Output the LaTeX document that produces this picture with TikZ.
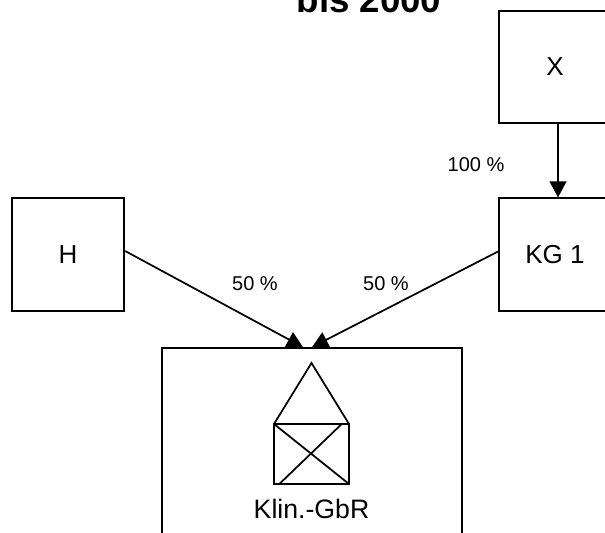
\documentclass[tikz,border=0pt]{standalone}
\usepackage{fontspec}
\setmainfont{Liberation Sans}
\usetikzlibrary{arrows.meta, positioning, calc}

\begin{document}
\begin{tikzpicture}[
    x=0.75pt, y=-0.75pt,
    box/.style={rectangle, draw, line width=1.3pt, minimum width=84.4pt, minimum height=84.4pt, inner sep=0pt, align=center, font=\fontsize{19.5}{22}\selectfont},
    arrow/.style={-{Triangle[length=12pt, width=12.5pt]}, line width=1.3pt},
    share/.style={inner sep=0pt, font=\fontsize{15}{18}\selectfont},
    thinline/.style={line width=1.3pt}
]
\clip (0,0) rectangle (605,532);
\useasboundingbox (0,0) rectangle (605,532);

\node[inner sep=0pt, font=\fontsize{27.5}{32}\bfseries\selectfont] (title) at (369,-1) {bis 2000};

\node[box] (x) at (555,67) {X};
\node[box, below=55pt of x] (kg) {KG 1};
\node[box] (h) at (68,254.5) {H};
\node[rectangle, draw, line width=1.3pt, minimum width=225pt, minimum height=168pt, inner sep=0pt] (gbr) at (312,460) {};

\coordinate (in1) at ($(gbr.north)+(-9,0)$);

\draw[arrow] ($(x.south)+(3,0)$) -- ($(kg.north)+(3,0)$);
\draw[arrow] ($(h.east)+(0,-3.5)$) -- (in1);
\draw[arrow] ($(kg.west)+(0,-3)$) -- (gbr.north);

\node[share] (p100) at (476,165) {100 \%};
\node[share] (p50a) at (255,284) {50 \%};
\node[share] (p50b) at (386,284) {50 \%};

% house
\coordinate (hnw) at (274,424);
\coordinate (hne) at (349,424);
\coordinate (hsw) at (274,484);
\coordinate (hse) at (349,484);
\coordinate (roof) at (311.5,363);
\draw[thinline] (hnw) rectangle (hse);
\draw[thinline, line join=miter] (hnw) -- (roof) -- (hne);
\draw[thinline] (hnw) -- (hse);
\draw[thinline] (341.7,424) -- (279.3,484);

\node[inner sep=0pt, font=\fontsize{20}{22}\selectfont] (gbrlabel) at (311.5,508.5) {Klin.-GbR};

\end{tikzpicture}
\end{document}
